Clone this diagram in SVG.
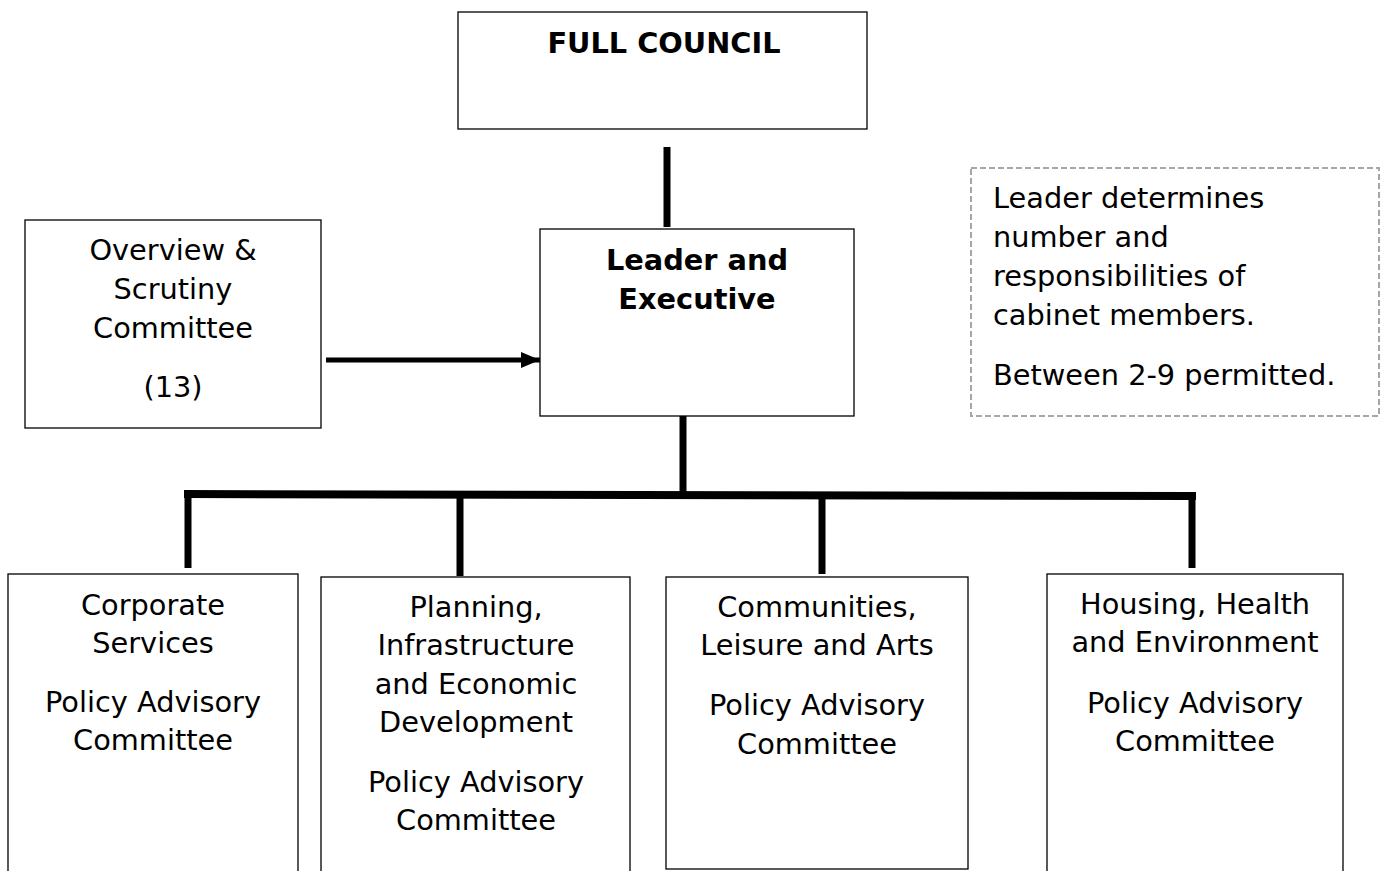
<svg xmlns="http://www.w3.org/2000/svg" width="1386" height="871" viewBox="0 0 1386 871">
  <style>
    .box { fill: #ffffff; stroke: #000000; stroke-width: 1.3; }
    .note { fill: #ffffff; stroke: #a6a6a6; stroke-width: 2; stroke-dasharray: 6 3; }
    .t { font-family: "DejaVu Sans", Verdana, sans-serif; font-size: 28.8px; fill: #000000; text-anchor: middle; }
    .b { font-weight: bold; }
    .l { text-anchor: start; }
    .c { stroke: #000000; stroke-width: 7; fill: none; stroke-linecap: butt; }
    .a { stroke: #000000; stroke-width: 5; fill: none; }
  </style>
  <defs>
    <marker id="arrow" markerUnits="userSpaceOnUse" markerWidth="20" markerHeight="18" refX="19" refY="8" orient="auto">
      <path d="M0,0 L19,8 L0,16 Z" fill="#000000"/>
    </marker>
  </defs>
  <rect width="1386" height="871" fill="#ffffff"/>

  <g id="connectors">
    <line class="c" x1="667" y1="147" x2="667" y2="227"/>
    <line class="c" x1="683" y1="416" x2="683" y2="495"/>
    <polygon points="184,490 1196,492 1196,500 184,498" fill="#000000"/>
    <line class="c" x1="188" y1="490" x2="188" y2="568"/>
    <line class="c" x1="460" y1="494" x2="460" y2="576"/>
    <line class="c" x1="822" y1="496" x2="822" y2="574"/>
    <line class="c" x1="1192" y1="496" x2="1192" y2="568"/>
    <line class="a" x1="326" y1="360" x2="540" y2="360" marker-end="url(#arrow)"/>
  </g>

  <g id="full-council">
    <rect class="box" x="458" y="12" width="409" height="117"/>
    <text class="t b" x="664" y="53">FULL COUNCIL</text>
  </g>

  <g id="leader-executive">
    <rect class="box" x="540" y="229" width="314" height="187"/>
    <text class="t b" x="697" y="270">Leader and</text>
    <text class="t b" x="697" y="309">Executive</text>
  </g>

  <g id="overview-scrutiny">
    <rect class="box" x="25" y="220" width="296" height="208"/>
    <text class="t" x="173" y="260">Overview &amp;</text>
    <text class="t" x="173" y="299">Scrutiny</text>
    <text class="t" x="173" y="338">Committee</text>
    <text class="t" x="173" y="397">(13)</text>
  </g>

  <g id="note">
    <rect class="note" x="971" y="168" width="408" height="248"/>
    <text class="t l" x="993" y="208">Leader determines</text>
    <text class="t l" x="993" y="247">number and</text>
    <text class="t l" x="993" y="286">responsibilities of</text>
    <text class="t l" x="993" y="325">cabinet members.</text>
    <text class="t l" x="993" y="385">Between 2-9 permitted.</text>
  </g>

  <g id="corporate-services">
    <rect class="box" x="8" y="574" width="290" height="310"/>
    <text class="t" x="153" y="615">Corporate</text>
    <text class="t" x="153" y="653">Services</text>
    <text class="t" x="153" y="712">Policy Advisory</text>
    <text class="t" x="153" y="750">Committee</text>
  </g>

  <g id="planning">
    <rect class="box" x="321" y="577" width="309" height="310"/>
    <text class="t" x="476" y="617">Planning,</text>
    <text class="t" x="476" y="655">Infrastructure</text>
    <text class="t" x="476" y="694">and Economic</text>
    <text class="t" x="476" y="732">Development</text>
    <text class="t" x="476" y="792">Policy Advisory</text>
    <text class="t" x="476" y="830">Committee</text>
  </g>

  <g id="communities">
    <rect class="box" x="666" y="577" width="302" height="292"/>
    <text class="t" x="817" y="617">Communities,</text>
    <text class="t" x="817" y="655">Leisure and Arts</text>
    <text class="t" x="817" y="715">Policy Advisory</text>
    <text class="t" x="817" y="754">Committee</text>
  </g>

  <g id="housing">
    <rect class="box" x="1047" y="574" width="296" height="310"/>
    <text class="t" x="1195" y="614">Housing, Health</text>
    <text class="t" x="1195" y="652">and Environment</text>
    <text class="t" x="1195" y="713">Policy Advisory</text>
    <text class="t" x="1195" y="751">Committee</text>
  </g>
</svg>
